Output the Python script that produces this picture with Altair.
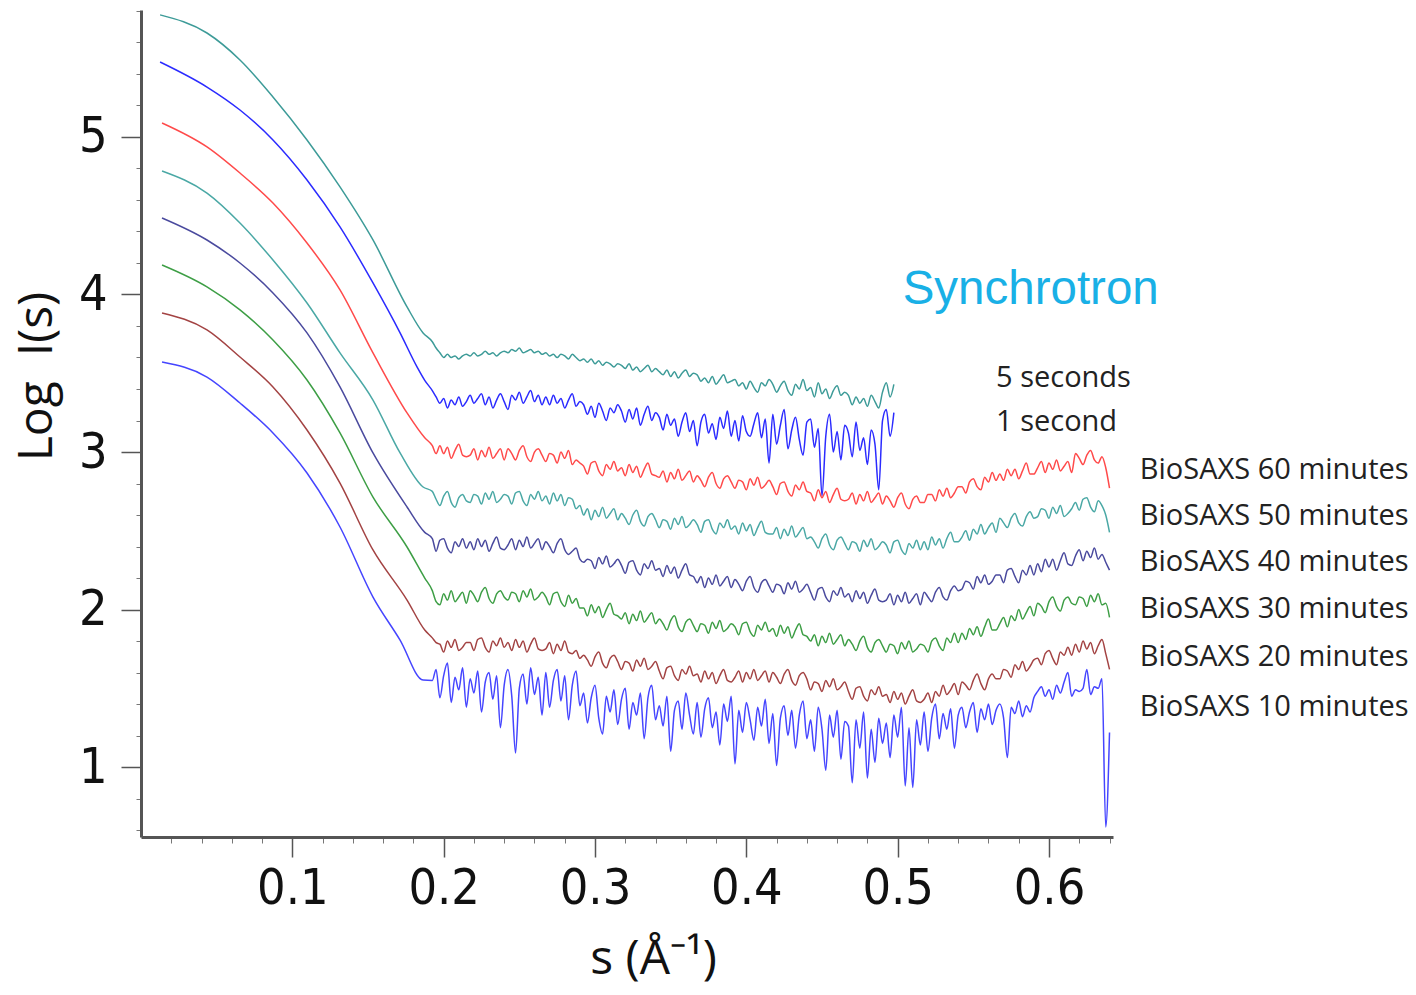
import altair as alt
import pandas as pd

# ---------------- data ----------------
SERIES = [
    "Synchrotron 5 seconds", "Synchrotron 1 second",
    "BioSAXS 60 minutes", "BioSAXS 50 minutes", "BioSAXS 40 minutes",
    "BioSAXS 30 minutes", "BioSAXS 20 minutes", "BioSAXS 10 minutes",
]
COLORS = ["#3d9b98", "#2b2bff", "#ff4a4a", "#4aa8a5", "#4a4a9e", "#3d9e45", "#a34343", "#4545ff"]

# steep (smooth) part: points
SYN5_S = [0.0126, 0.0436, 0.0654, 0.0872, 0.1097, 0.1315, 0.1533, 0.1758, 0.1864]
SYN5_V = [5.775, 5.660, 5.489, 5.254, 4.981, 4.683, 4.346, 3.921, 3.756]
SYN1_S = [0.0126, 0.0436, 0.0654, 0.0872, 0.1097, 0.1315, 0.1533, 0.1712, 0.1824, 0.1875]
SYN1_V = [5.476, 5.317, 5.171, 4.981, 4.727, 4.429, 4.073, 3.756, 3.540, 3.455]
B60_S = [0.0139, 0.0436, 0.0654, 0.0872, 0.1097, 0.1315, 0.1533, 0.1758, 0.1875]
B60_V = [5.089, 4.937, 4.771, 4.581, 4.327, 4.029, 3.629, 3.248, 3.090]
B50_S = [0.0139, 0.0436, 0.0654, 0.0872, 0.1097, 0.1315, 0.1533, 0.1712, 0.1864]
B50_V = [4.784, 4.644, 4.454, 4.219, 3.946, 3.629, 3.330, 2.994, 2.778]
B40_S = [0.0139, 0.0436, 0.0654, 0.0872, 0.1097, 0.1315, 0.1533, 0.1758, 0.1875]
B40_V = [4.486, 4.346, 4.200, 4.010, 3.756, 3.413, 2.994, 2.651, 2.490]
B30_S = [0.0139, 0.0436, 0.0654, 0.0872, 0.1097, 0.1315, 0.1533, 0.1758, 0.1875]
B30_V = [4.187, 4.048, 3.902, 3.711, 3.457, 3.121, 2.714, 2.397, 2.200]
B20_S = [0.0139, 0.0436, 0.0654, 0.0872, 0.1097, 0.1315, 0.1533, 0.1758, 0.1875]
B20_V = [3.883, 3.775, 3.603, 3.413, 3.140, 2.803, 2.378, 2.060, 1.870]
B10_S = [0.0139, 0.0436, 0.0654, 0.0872, 0.1097, 0.1315, 0.1533, 0.1712, 0.1864]
B10_V = [3.571, 3.476, 3.311, 3.121, 2.867, 2.524, 2.079, 1.806, 1.552]

# noisy part: sampled every 0.0025 from s = 0.1925
S_NOISY = [round(0.1925 + 0.0025 * k, 4) for k in range(180)]     # 0.1925 … 0.6400

SYN5_NOISY = [
    3.70, 3.66, 3.63, 3.60, 3.62, 3.60, 3.61, 3.59, 3.61, 3.62,
    3.61, 3.63, 3.61, 3.62, 3.64, 3.62, 3.63, 3.61, 3.63, 3.64,
    3.63, 3.65, 3.64, 3.66, 3.63, 3.64, 3.65, 3.63, 3.64, 3.62,
    3.63, 3.61, 3.62, 3.60, 3.62, 3.61, 3.59, 3.62, 3.60, 3.58,
    3.59, 3.57, 3.59, 3.56, 3.58, 3.55, 3.57, 3.56, 3.54, 3.56,
    3.55, 3.53, 3.56, 3.52, 3.54, 3.51, 3.53, 3.55, 3.51, 3.53,
    3.51, 3.49, 3.52, 3.48, 3.51, 3.47, 3.50, 3.52, 3.48, 3.50,
    3.49, 3.45, 3.47, 3.44, 3.48, 3.43, 3.46, 3.49, 3.44, 3.45,
    3.46, 3.42, 3.44, 3.40, 3.45, 3.41, 3.38, 3.44, 3.42, 3.46,
    3.43, 3.38, 3.42, 3.45, 3.39, 3.36, 3.43, 3.40, 3.46, 3.39,
    3.41, 3.35, 3.44, 3.37, 3.40, 3.34, 3.39, 3.42, 3.36, 3.38,
    3.36, 3.30, 3.35, 3.31, 3.34, 3.29, 3.36, 3.32, 3.28, 3.38,
    3.44, 3.35, 3.43,
]
SYN1_NOISY = [
    3.39, 3.35, 3.31, 3.34, 3.28, 3.33, 3.30, 3.35, 3.29, 3.32,
    3.36, 3.31, 3.34, 3.37, 3.30, 3.35, 3.28, 3.33, 3.37, 3.32,
    3.27, 3.36, 3.33, 3.38, 3.31, 3.35, 3.39, 3.32, 3.36, 3.30,
    3.35, 3.30, 3.36, 3.31, 3.34, 3.28, 3.33, 3.37, 3.29, 3.32,
    3.30, 3.24, 3.29, 3.22, 3.31, 3.26, 3.20, 3.28, 3.25, 3.30,
    3.26, 3.19, 3.27, 3.21, 3.28, 3.17, 3.24, 3.29, 3.20, 3.25,
    3.22, 3.14, 3.24, 3.17, 3.21, 3.10, 3.19, 3.25, 3.13, 3.20,
    3.04, 3.19, 3.24, 3.12, 3.18, 3.08, 3.22, 3.15, 3.26, 3.10,
    3.20, 3.07, 3.23, 3.13, 3.10, 3.18, 3.25, 3.09, 3.21, 2.93,
    3.24, 3.05, 3.17, 3.27, 3.02, 3.14, 3.22, 3.08, 2.98, 3.19,
    3.21, 3.03, 3.15, 2.72, 3.10, 3.24, 3.00, 3.13, 2.95, 3.17,
    3.12, 2.97, 3.19, 3.01, 3.09, 2.92, 3.14, 3.05, 2.76, 3.20,
    3.27, 3.10, 3.25,
]
B60_NOISY = [
    3.04, 2.99, 3.04, 2.99, 3.03, 2.96, 3.01, 3.05, 2.98, 2.97,
    2.98, 3.02, 2.95, 3.01, 2.97, 3.03, 2.96, 2.99, 3.02, 2.95,
    3.02, 2.99, 2.95, 3.01, 3.04, 2.97, 2.94, 3.00, 3.02, 2.98,
    2.94, 2.99, 2.98, 2.93, 3.00, 2.96, 3.01, 2.92, 2.95, 2.93,
    2.91, 2.86, 2.93, 2.94, 2.88, 2.85, 2.92, 2.89, 2.94, 2.88,
    2.90, 2.85, 2.92, 2.87, 2.91, 2.84, 2.89, 2.93, 2.86, 2.85,
    2.84, 2.88, 2.81, 2.87, 2.83, 2.89, 2.82, 2.85, 2.88, 2.81,
    2.85, 2.82, 2.78, 2.84, 2.87, 2.80, 2.77, 2.83, 2.85, 2.81,
    2.77, 2.82, 2.81, 2.76, 2.83, 2.79, 2.84, 2.77, 2.79, 2.82,
    2.78, 2.73, 2.80, 2.81, 2.75, 2.72, 2.79, 2.76, 2.81, 2.75,
    2.74, 2.69, 2.76, 2.71, 2.75, 2.68, 2.73, 2.77, 2.70, 2.69,
    2.70, 2.74, 2.67, 2.73, 2.69, 2.75, 2.68, 2.71, 2.74, 2.67,
    2.72, 2.69, 2.65, 2.71, 2.74, 2.67, 2.64, 2.70, 2.72, 2.68,
    2.68, 2.73, 2.73, 2.69, 2.76, 2.72, 2.77, 2.71, 2.74, 2.78,
    2.78, 2.74, 2.81, 2.83, 2.78, 2.76, 2.84, 2.81, 2.87, 2.82,
    2.86, 2.82, 2.89, 2.85, 2.89, 2.83, 2.88, 2.93, 2.86, 2.86,
    2.90, 2.94, 2.87, 2.93, 2.89, 2.95, 2.88, 2.91, 2.94, 2.87,
    2.99, 2.96, 2.92, 2.98, 3.01, 2.95, 2.93, 2.97, 2.90, 2.77,
]
B50_NOISY = [
    2.75, 2.70, 2.66, 2.72, 2.75, 2.68, 2.65, 2.71, 2.73, 2.69,
    2.68, 2.73, 2.72, 2.67, 2.74, 2.70, 2.75, 2.68, 2.70, 2.73,
    2.72, 2.67, 2.74, 2.75, 2.69, 2.66, 2.73, 2.70, 2.75, 2.69,
    2.72, 2.67, 2.74, 2.69, 2.73, 2.66, 2.71, 2.70, 2.64, 2.66,
    2.60, 2.64, 2.57, 2.63, 2.59, 2.65, 2.58, 2.61, 2.64, 2.57,
    2.61, 2.58, 2.54, 2.60, 2.63, 2.56, 2.53, 2.59, 2.61, 2.57,
    2.52, 2.57, 2.56, 2.51, 2.58, 2.54, 2.59, 2.52, 2.54, 2.57,
    2.54, 2.49, 2.56, 2.57, 2.51, 2.48, 2.55, 2.52, 2.57, 2.51,
    2.53, 2.48, 2.55, 2.50, 2.54, 2.47, 2.52, 2.56, 2.49, 2.48,
    2.48, 2.52, 2.45, 2.51, 2.47, 2.53, 2.46, 2.49, 2.52, 2.45,
    2.46, 2.43, 2.39, 2.45, 2.48, 2.41, 2.38, 2.44, 2.46, 2.42,
    2.38, 2.43, 2.42, 2.37, 2.44, 2.40, 2.45, 2.38, 2.40, 2.43,
    2.41, 2.36, 2.43, 2.44, 2.38, 2.35, 2.42, 2.39, 2.44, 2.38,
    2.43, 2.38, 2.46, 2.41, 2.45, 2.39, 2.45, 2.49, 2.43, 2.43,
    2.46, 2.50, 2.44, 2.51, 2.48, 2.54, 2.48, 2.52, 2.55, 2.49,
    2.58, 2.55, 2.52, 2.58, 2.61, 2.55, 2.53, 2.59, 2.62, 2.58,
    2.59, 2.64, 2.63, 2.58, 2.65, 2.61, 2.66, 2.59, 2.61, 2.64,
    2.68, 2.63, 2.70, 2.71, 2.65, 2.62, 2.69, 2.66, 2.60, 2.49,
]
B40_NOISY = [
    2.45, 2.37, 2.44, 2.45, 2.39, 2.36, 2.43, 2.40, 2.45, 2.39,
    2.43, 2.38, 2.45, 2.40, 2.44, 2.37, 2.42, 2.46, 2.39, 2.38,
    2.41, 2.45, 2.38, 2.44, 2.40, 2.46, 2.39, 2.42, 2.45, 2.38,
    2.43, 2.40, 2.36, 2.42, 2.45, 2.38, 2.35, 2.37, 2.39, 2.32,
    2.30, 2.32, 2.31, 2.26, 2.33, 2.29, 2.34, 2.27, 2.29, 2.32,
    2.28, 2.23, 2.30, 2.31, 2.25, 2.22, 2.29, 2.26, 2.31, 2.25,
    2.26, 2.21, 2.28, 2.23, 2.27, 2.20, 2.25, 2.29, 2.22, 2.21,
    2.17, 2.21, 2.14, 2.20, 2.16, 2.22, 2.15, 2.18, 2.21, 2.14,
    2.19, 2.16, 2.12, 2.18, 2.21, 2.14, 2.11, 2.17, 2.19, 2.15,
    2.11, 2.16, 2.15, 2.10, 2.17, 2.13, 2.18, 2.11, 2.13, 2.16,
    2.11, 2.06, 2.13, 2.14, 2.08, 2.05, 2.12, 2.09, 2.14, 2.08,
    2.10, 2.05, 2.12, 2.07, 2.11, 2.04, 2.09, 2.13, 2.06, 2.05,
    2.06, 2.10, 2.03, 2.09, 2.05, 2.11, 2.04, 2.07, 2.10, 2.03,
    2.11, 2.08, 2.05, 2.11, 2.14, 2.08, 2.06, 2.12, 2.15, 2.12,
    2.13, 2.18, 2.17, 2.13, 2.21, 2.17, 2.22, 2.16, 2.18, 2.22,
    2.22, 2.17, 2.25, 2.26, 2.21, 2.17, 2.25, 2.22, 2.28, 2.22,
    2.29, 2.24, 2.32, 2.27, 2.32, 2.25, 2.31, 2.36, 2.29, 2.28,
    2.34, 2.38, 2.31, 2.37, 2.33, 2.39, 2.32, 2.35, 2.30, 2.25,
]
B30_NOISY = [
    2.12, 2.05, 2.03, 2.10, 2.06, 2.12, 2.05, 2.08, 2.11, 2.04,
    2.12, 2.09, 2.05, 2.11, 2.14, 2.07, 2.04, 2.10, 2.12, 2.08,
    2.06, 2.11, 2.10, 2.05, 2.12, 2.08, 2.13, 2.06, 2.08, 2.11,
    2.08, 2.03, 2.10, 2.11, 2.05, 2.02, 2.09, 2.04, 2.07, 2.01,
    2.01, 1.96, 2.03, 1.98, 2.02, 1.95, 2.00, 2.04, 1.97, 1.96,
    1.94, 1.98, 1.91, 1.97, 1.93, 1.99, 1.92, 1.95, 1.98, 1.91,
    1.94, 1.91, 1.87, 1.93, 1.96, 1.89, 1.86, 1.92, 1.94, 1.90,
    1.86, 1.91, 1.90, 1.85, 1.92, 1.88, 1.93, 1.86, 1.88, 1.91,
    1.89, 1.84, 1.91, 1.92, 1.86, 1.83, 1.90, 1.87, 1.92, 1.86,
    1.88, 1.83, 1.90, 1.85, 1.89, 1.82, 1.87, 1.91, 1.84, 1.83,
    1.80, 1.84, 1.77, 1.83, 1.79, 1.85, 1.78, 1.81, 1.84, 1.77,
    1.81, 1.78, 1.74, 1.80, 1.83, 1.76, 1.73, 1.79, 1.81, 1.77,
    1.73, 1.78, 1.77, 1.72, 1.79, 1.75, 1.80, 1.73, 1.75, 1.78,
    1.77, 1.73, 1.80, 1.82, 1.77, 1.74, 1.82, 1.79, 1.85, 1.79,
    1.85, 1.81, 1.88, 1.84, 1.89, 1.83, 1.89, 1.94, 1.87, 1.87,
    1.91, 1.95, 1.89, 1.96, 1.93, 2.00, 1.94, 1.98, 2.02, 1.96,
    2.04, 2.02, 1.98, 2.05, 2.08, 2.02, 1.99, 2.06, 2.08, 2.04,
    2.03, 2.08, 2.07, 2.02, 2.09, 2.05, 2.10, 2.03, 2.04, 1.95,
]
B20_NOISY = [
    1.82, 1.79, 1.78, 1.73, 1.80, 1.76, 1.81, 1.74, 1.76, 1.79,
    1.79, 1.74, 1.81, 1.82, 1.76, 1.73, 1.80, 1.77, 1.82, 1.76,
    1.79, 1.74, 1.81, 1.76, 1.80, 1.73, 1.78, 1.82, 1.75, 1.74,
    1.75, 1.79, 1.72, 1.78, 1.74, 1.80, 1.73, 1.72, 1.74, 1.69,
    1.71, 1.68, 1.64, 1.70, 1.73, 1.66, 1.63, 1.69, 1.71, 1.67,
    1.62, 1.67, 1.66, 1.61, 1.68, 1.64, 1.69, 1.62, 1.64, 1.67,
    1.61, 1.56, 1.63, 1.64, 1.58, 1.55, 1.62, 1.59, 1.64, 1.58,
    1.59, 1.54, 1.61, 1.56, 1.60, 1.53, 1.58, 1.62, 1.55, 1.54,
    1.57, 1.61, 1.54, 1.60, 1.56, 1.62, 1.55, 1.58, 1.61, 1.54,
    1.60, 1.57, 1.53, 1.59, 1.62, 1.55, 1.52, 1.58, 1.60, 1.56,
    1.49, 1.54, 1.53, 1.48, 1.55, 1.51, 1.56, 1.49, 1.51, 1.54,
    1.48, 1.43, 1.50, 1.51, 1.45, 1.42, 1.49, 1.46, 1.51, 1.45,
    1.46, 1.41, 1.48, 1.43, 1.47, 1.40, 1.45, 1.49, 1.42, 1.41,
    1.43, 1.47, 1.41, 1.48, 1.45, 1.52, 1.46, 1.49, 1.53, 1.46,
    1.54, 1.52, 1.49, 1.55, 1.59, 1.53, 1.49, 1.56, 1.59, 1.56,
    1.56, 1.62, 1.61, 1.57, 1.65, 1.62, 1.67, 1.61, 1.64, 1.68,
    1.69, 1.65, 1.72, 1.74, 1.69, 1.65, 1.73, 1.71, 1.76, 1.71,
    1.78, 1.73, 1.80, 1.75, 1.79, 1.72, 1.77, 1.81, 1.72, 1.62,
]
B10_NOISY = [
    1.55, 1.62, 1.44, 1.58, 1.66, 1.41, 1.57, 1.49, 1.63, 1.38,
    1.56, 1.47, 1.61, 1.35, 1.54, 1.60, 1.43, 1.58, 1.25, 1.52,
    1.62, 1.45, 1.09, 1.50, 1.59, 1.40, 1.63, 1.46, 1.57, 1.33,
    1.60, 1.38, 1.55, 1.62, 1.42, 1.58, 1.30, 1.52, 1.61, 1.39,
    1.47, 1.28, 1.44, 1.52, 1.31, 1.21, 1.45, 1.35, 1.49, 1.27,
    1.43, 1.50, 1.24, 1.41, 1.33, 1.47, 1.18, 1.44, 1.52, 1.30,
    1.39, 1.26, 1.45, 1.10, 1.36, 1.42, 1.24, 1.47, 1.33, 1.21,
    1.41, 1.19, 1.37, 1.44, 1.25, 1.35, 1.14, 1.40, 1.29, 1.45,
    1.02, 1.36, 1.22, 1.41, 1.30, 1.17, 1.38, 1.26, 1.43, 1.15,
    1.34, 1.01, 1.31, 1.39, 1.20, 1.36, 1.12, 1.33, 1.42, 1.18,
    1.30, 1.10, 1.38, 1.24, 0.98, 1.33, 1.19, 1.36, 1.05, 1.29,
    1.26, 0.90, 1.30, 1.12, 1.35, 0.93, 1.24, 1.03, 1.31, 1.15,
    1.28, 1.06, 1.33, 1.19, 1.38, 0.88, 1.25, 0.87, 1.30, 1.14,
    1.35, 1.10, 1.31, 1.40, 1.18, 1.34, 1.24, 1.37, 1.12, 1.33,
    1.38, 1.25, 1.35, 1.41, 1.22, 1.37, 1.30, 1.40, 1.27, 1.36,
    1.40, 1.31, 1.06, 1.38, 1.34, 1.42, 1.32, 1.39, 1.35, 1.44,
    1.48, 1.51, 1.45, 1.49, 1.43, 1.52, 1.47, 1.54, 1.60, 1.45,
    1.49, 1.48, 1.50, 1.62, 1.46, 1.51, 1.50, 1.56, 0.62, 1.22,
]

SMOOTH_S = [SYN5_S, SYN1_S, B60_S, B50_S, B40_S, B30_S, B20_S, B10_S]
SMOOTH_V = [SYN5_V, SYN1_V, B60_V, B50_V, B40_V, B30_V, B20_V, B10_V]
NOISY = [SYN5_NOISY, SYN1_NOISY, B60_NOISY, B50_NOISY, B40_NOISY, B30_NOISY, B20_NOISY, B10_NOISY]

X_TICKS = [0.1, 0.2, 0.3, 0.4, 0.5, 0.6]
X_MINOR = [0.02, 0.04, 0.06, 0.08, 0.12, 0.14, 0.16, 0.18, 0.22, 0.24, 0.26, 0.28,
           0.32, 0.34, 0.36, 0.38, 0.42, 0.44, 0.46, 0.48, 0.52, 0.54, 0.56, 0.58,
           0.62, 0.64]
Y_TICKS = [1, 2, 3, 4, 5]
Y_MINOR = [0.6, 0.8, 1.2, 1.4, 1.6, 1.8, 2.2, 2.4, 2.6, 2.8, 3.2, 3.4, 3.6, 3.8,
           4.2, 4.4, 4.6, 4.8, 5.2, 5.4, 5.6, 5.8]

LABELS = ["BioSAXS 60 minutes", "BioSAXS 50 minutes", "BioSAXS 40 minutes",
          "BioSAXS 30 minutes", "BioSAXS 20 minutes", "BioSAXS 10 minutes",
          "5 seconds", "1 second"]
LABEL_S = [0.660, 0.660, 0.660, 0.660, 0.660, 0.660, 0.565, 0.565]
LABEL_V = [2.886, 2.594, 2.302, 2.003, 1.698, 1.381, 3.470, 3.190]

HEADER = ["Synchrotron"]
HEADER_S = [0.5033]
HEADER_V = [4.029]

# ---------------- build tables ----------------
rows = []
for name, ss, sv, nz in zip(SERIES, SMOOTH_S, SMOOTH_V, NOISY):
    assert len(ss) == len(sv), name
    xs = ss + S_NOISY[:len(nz)]
    ys = sv + nz
    assert len(xs) == len(ys), name
    for i, (x, y) in enumerate(zip(xs, ys)):
        rows.append({"series": name, "s": x, "v": y, "i": i})
df = pd.DataFrame(rows)

lab_df = pd.DataFrame({"label": LABELS, "s": LABEL_S, "v": LABEL_V})
head_df = pd.DataFrame({"label": HEADER, "s": HEADER_S, "v": HEADER_V})

AX = "#555555"
NARROW = "'Liberation Sans Narrow', 'DejaVu Sans Condensed', 'Open Sans'"
TFONT = "Open Sans"

xscale = alt.Scale(domain=[0.0, 0.6423], nice=False, zero=False)
yscale = alt.Scale(domain=[0.556, 5.806], nice=False, zero=False)

x_major = alt.Axis(values=X_TICKS, format=".1f", orient="bottom", grid=False,
                   tickSize=20, tickWidth=1.5, tickColor=AX,
                   domainColor=AX, domainWidth=3,
                   labelFont=NARROW, labelFontSize=50, labelColor="#111",
                   labelPadding=6, labelFlush=False,
                   title="s (Å⁻¹)", titleFont=TFONT, titleFontSize=48,
                   titleFontWeight="normal", titleColor="#111",
                   titlePadding=22, titleX=512)
y_major = alt.Axis(values=Y_TICKS, format="d", orient="left", grid=False,
                   tickSize=20, tickWidth=1.5, tickColor=AX,
                   domainColor=AX, domainWidth=3,
                   labelFont=NARROW, labelFontSize=50, labelColor="#111",
                   labelPadding=14, labelFlush=False,
                   title="Log\u00a0 I(s)", titleFont=TFONT, titleFontSize=48,
                   titleFontWeight="normal", titleColor="#111",
                   titlePadding=17, titleY=366)
x_minor = alt.Axis(values=X_MINOR, orient="bottom", grid=False, labels=False,
                   domain=False, tickSize=6, tickWidth=1, tickColor="#777", title="")
y_minor = alt.Axis(values=Y_MINOR, orient="left", grid=False, labels=False,
                   domain=False, tickSize=5, tickWidth=1, tickColor="#777", title="")

minor = alt.Chart(df).mark_line(opacity=0).encode(
    x=alt.X("s:Q", scale=xscale, axis=x_minor),
    y=alt.Y("v:Q", scale=yscale, axis=y_minor),
    detail="series:N",
)

lines = alt.Chart(df).mark_line(strokeWidth=1.5, strokeJoin="round",
                                interpolate="monotone").encode(
    x=alt.X("s:Q", scale=xscale, axis=x_major),
    y=alt.Y("v:Q", scale=yscale, axis=y_major),
    color=alt.Color("series:N", scale=alt.Scale(domain=SERIES, range=COLORS), legend=None),
    order="i:Q",
)

labels = alt.Chart(lab_df).mark_text(
    align="left", baseline="middle", font=TFONT, fontSize=29, color="#222222", clip=False
).encode(
    x=alt.X("s:Q", scale=xscale, axis=None),
    y=alt.Y("v:Q", scale=yscale, axis=None),
    text="label:N",
)

header = alt.Chart(head_df).mark_text(
    align="left", baseline="middle", font="Liberation Sans", fontSize=47.5,
    color="#19b0e6", clip=False
).encode(
    x=alt.X("s:Q", scale=xscale, axis=None),
    y=alt.Y("v:Q", scale=yscale, axis=None),
    text="label:N",
)

chart = alt.layer(minor, lines, labels, header).resolve_axis(
    x="independent", y="independent"
).properties(
    width=972, height=827,
    autosize=alt.AutoSizeParams(type="none"),
    padding={"left": 133, "top": 2, "right": 295, "bottom": 155},
    background="white",
).configure_view(stroke=None)

chart.save("out.html", embed_options={"renderer": "svg", "actions": False})
